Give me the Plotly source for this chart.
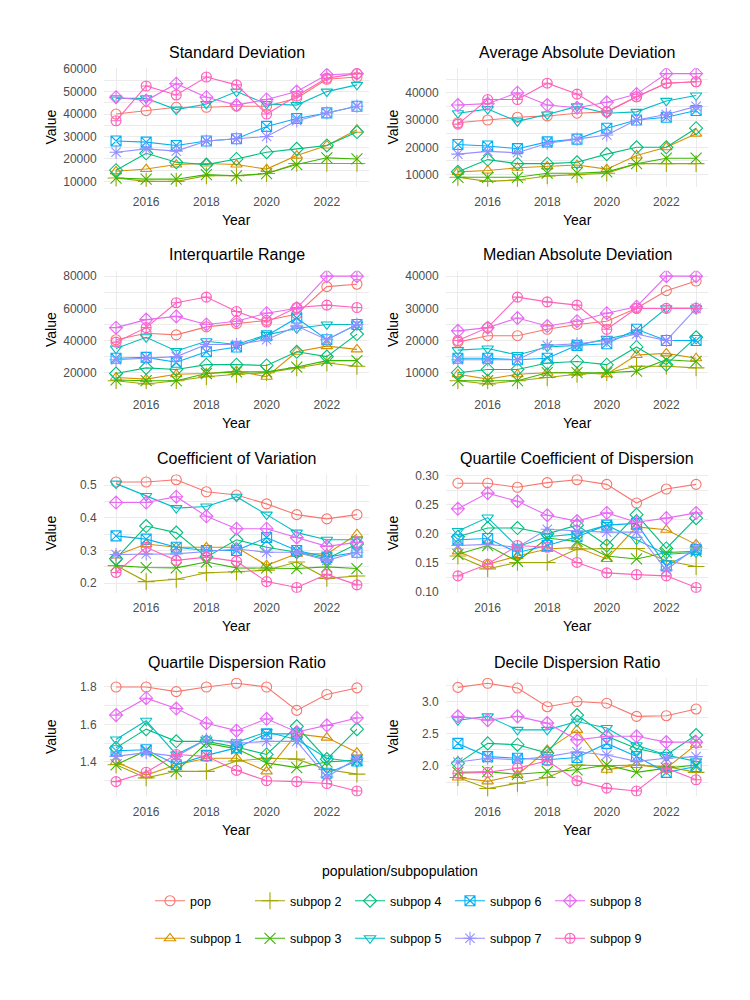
import plotly.graph_objects as go
from plotly.subplots import make_subplots

years = [2015, 2016, 2017, 2018, 2019, 2020, 2021, 2022, 2023]
series_names = ["pop", "subpop 1", "subpop 2", "subpop 3", "subpop 4",
                "subpop 5", "subpop 6", "subpop 7", "subpop 8", "subpop 9"]
colors = ["#F8766D", "#D89000", "#A3A500", "#39B600", "#00BF7D",
          "#00BFC4", "#00B0F6", "#9590FF", "#E76BF3", "#FF62BC"]
symbols = ["circle-open", "triangle-up-open", "cross-thin-open", "x-thin-open", "diamond-open",
           "triangle-down-open", "square-x-open", "asterisk-open", "diamond-cross-open", "circle-cross-open"]
sizes = [10, 10, 12, 11, 10, 10, 10, 11, 10, 10]

# Standard Deviation
sd_pop = [40000, 41500, 43000, 43000, 43500, 43500, 47000, 55500, 56500]
sd_s1 = [14500, 15500, 17500, 18000, 17500, 15500, 21500, 26000, 33000]
sd_s2 = [11500, 10000, 10000, 12500, 12500, 13500, 18000, 18000, 18000]
sd_s3 = [11500, 11000, 11000, 13000, 12500, 13500, 17500, 20500, 20000]
sd_s4 = [15000, 22500, 18500, 17500, 20000, 23000, 24500, 26000, 32000]
sd_s5 = [47000, 47000, 42000, 44500, 50000, 44500, 44000, 50000, 53000]
sd_s6 = [28000, 27500, 26000, 28000, 29000, 34500, 38000, 40500, 43500]
sd_s7 = [23000, 24500, 23500, 28000, 29000, 30000, 37000, 40500, 43500]
sd_s8 = [47500, 46000, 53500, 47500, 44000, 46500, 50000, 57500, 58000]
sd_s9 = [37000, 52500, 48500, 56500, 53000, 40000, 48000, 56000, 58000]

# Average Absolute Deviation
aad_pop = [29000, 30000, 31000, 31500, 32500, 33000, 38500, 43500, 44000]
aad_s1 = [11000, 11500, 12500, 13000, 13500, 12000, 17000, 20000, 25000]
aad_s2 = [9000, 7500, 8000, 9500, 10000, 10500, 14000, 14000, 14000]
aad_s3 = [9000, 9000, 9000, 10500, 10500, 11000, 14000, 16000, 16000]
aad_s4 = [11000, 15500, 14000, 14000, 14500, 17500, 20000, 20000, 27000]
aad_s5 = [32500, 34000, 29500, 32000, 35000, 32500, 33000, 37000, 39000]
aad_s6 = [21000, 20500, 19500, 22000, 23000, 27000, 30000, 31000, 33500]
aad_s7 = [17500, 18500, 18000, 21500, 23000, 24500, 30000, 32000, 35000]
aad_s8 = [35500, 36000, 40000, 35500, 34500, 36500, 39500, 47000, 47000]
aad_s9 = [28500, 37500, 37500, 43500, 39500, 33000, 38500, 43500, 44000]

# Interquartile Range
iqr_pop = [40500, 44500, 43500, 48500, 50500, 52500, 56500, 73500, 75000]
iqr_s1 = [17000, 16000, 19000, 19500, 21000, 17500, 33000, 36500, 34500]
iqr_s2 = [15000, 13000, 15000, 17500, 19000, 20000, 23000, 26000, 24000]
iqr_s3 = [15500, 15000, 15000, 19500, 20500, 20500, 23500, 27500, 27500]
iqr_s4 = [19500, 23000, 22000, 25000, 25000, 24500, 33000, 30000, 44000]
iqr_s5 = [35000, 42000, 33500, 39500, 37500, 43500, 47500, 50000, 50000]
iqr_s6 = [29000, 29500, 26500, 33000, 36000, 43000, 54000, 40500, 50000]
iqr_s7 = [28000, 29000, 30000, 37500, 37500, 40500, 49000, 40500, 50000]
iqr_s8 = [48000, 53000, 55000, 50000, 52000, 57000, 60000, 80000, 80000]
iqr_s9 = [39000, 48000, 63500, 67000, 58000, 51500, 60500, 62000, 60500]

# Median Absolute Deviation
mad_pop = [19500, 21500, 21500, 23500, 25000, 26000, 30000, 35500, 38500]
mad_s1 = [9500, 8000, 9500, 10000, 10000, 9500, 15500, 16000, 14500]
mad_s2 = [7500, 6500, 7500, 8500, 9500, 10000, 12000, 12000, 11500]
mad_s3 = [7500, 7500, 7500, 10000, 10000, 10000, 10500, 14000, 13500]
mad_s4 = [10000, 11000, 11000, 13000, 13500, 12500, 18000, 12500, 21000]
mad_s5 = [17000, 17500, 15500, 18000, 18500, 20500, 22500, 30000, 30000]
mad_s6 = [14500, 14500, 14000, 14500, 18500, 19000, 23500, 20000, 20000]
mad_s7 = [14000, 14000, 14000, 18500, 19000, 20000, 22000, 20000, 30000]
mad_s8 = [23000, 24000, 27000, 24500, 26000, 28500, 30500, 40000, 40000]
mad_s9 = [20000, 24000, 33500, 32000, 31000, 23500, 30000, 30000, 30000]

# Coefficient of Variation
cv_pop = [0.51, 0.51, 0.517, 0.48, 0.47, 0.443, 0.41, 0.397, 0.41]
cv_s1 = [0.285, 0.32, 0.31, 0.31, 0.31, 0.255, 0.29, 0.29, 0.35]
cv_s2 = [0.254, 0.205, 0.212, 0.232, 0.235, 0.24, 0.265, 0.215, 0.222]
cv_s3 = [0.254, 0.248, 0.247, 0.265, 0.247, 0.247, 0.245, 0.25, 0.245]
cv_s4 = [0.275, 0.375, 0.355, 0.28, 0.333, 0.31, 0.295, 0.275, 0.32]
cv_s5 = [0.505, 0.467, 0.43, 0.435, 0.465, 0.41, 0.355, 0.333, 0.333]
cv_s6 = [0.345, 0.335, 0.31, 0.30, 0.30, 0.34, 0.30, 0.28, 0.295]
cv_s7 = [0.288, 0.29, 0.29, 0.297, 0.305, 0.295, 0.295, 0.27, 0.295]
cv_s8 = [0.447, 0.447, 0.465, 0.405, 0.367, 0.367, 0.34, 0.313, 0.325]
cv_s9 = [0.233, 0.31, 0.27, 0.28, 0.267, 0.205, 0.187, 0.227, 0.195]

# Quartile Coefficient of Dispersion
qcd_pop = [0.287, 0.287, 0.28, 0.288, 0.293, 0.285, 0.253, 0.277, 0.285]
qcd_s1 = [0.17, 0.148, 0.162, 0.174, 0.177, 0.157, 0.212, 0.207, 0.182]
qcd_s2 = [0.162, 0.14, 0.151, 0.151, 0.174, 0.175, 0.175, 0.154, 0.144]
qcd_s3 = [0.165, 0.18, 0.153, 0.193, 0.187, 0.162, 0.157, 0.168, 0.17]
qcd_s4 = [0.195, 0.21, 0.21, 0.2, 0.215, 0.18, 0.233, 0.175, 0.227]
qcd_s5 = [0.205, 0.228, 0.178, 0.195, 0.2, 0.215, 0.19, 0.165, 0.168]
qcd_s6 = [0.19, 0.192, 0.168, 0.18, 0.195, 0.215, 0.218, 0.145, 0.173]
qcd_s7 = [0.18, 0.182, 0.177, 0.208, 0.205, 0.203, 0.203, 0.138, 0.177]
qcd_s8 = [0.243, 0.27, 0.256, 0.232, 0.222, 0.236, 0.22, 0.227, 0.236]
qcd_s9 = [0.128, 0.148, 0.18, 0.177, 0.151, 0.133, 0.13, 0.128, 0.108]

# Quartile Dispersion Ratio
qdr_pop = [1.80, 1.80, 1.775, 1.80, 1.82, 1.80, 1.675, 1.76, 1.795]
qdr_s1 = [1.40, 1.33, 1.385, 1.42, 1.42, 1.35, 1.55, 1.53, 1.45]
qdr_s2 = [1.385, 1.315, 1.35, 1.35, 1.405, 1.42, 1.415, 1.36, 1.335]
qdr_s3 = [1.385, 1.46, 1.35, 1.50, 1.47, 1.395, 1.37, 1.40, 1.41]
qdr_s4 = [1.475, 1.575, 1.51, 1.51, 1.48, 1.44, 1.59, 1.415, 1.575]
qdr_s5 = [1.52, 1.62, 1.44, 1.52, 1.505, 1.56, 1.52, 1.42, 1.40]
qdr_s6 = [1.46, 1.465, 1.385, 1.435, 1.475, 1.55, 1.55, 1.34, 1.405]
qdr_s7 = [1.43, 1.45, 1.43, 1.52, 1.50, 1.51, 1.51, 1.32, 1.42]
qdr_s8 = [1.65, 1.74, 1.685, 1.607, 1.567, 1.63, 1.56, 1.595, 1.635]
qdr_s9 = [1.295, 1.345, 1.44, 1.43, 1.355, 1.30, 1.295, 1.285, 1.245]

# Decile Dispersion Ratio
ddr_pop = [3.22, 3.285, 3.21, 2.92, 3.0, 2.975, 2.77, 2.78, 2.885]
ddr_s1 = [1.82, 1.76, 1.86, 2.25, 2.56, 1.94, 2.015, 1.965, 2.33]
ddr_s2 = [1.82, 1.65, 1.73, 1.82, 2.015, 2.0, 2.015, 1.99, 1.90]
ddr_s3 = [1.90, 1.91, 1.87, 1.91, 1.94, 2.015, 1.90, 1.965, 2.015]
ddr_s4 = [2.04, 2.35, 2.33, 2.2, 2.79, 2.46, 2.27, 2.17, 2.48]
ddr_s5 = [2.71, 2.77, 2.56, 2.56, 2.69, 2.59, 2.32, 2.17, 2.07]
ddr_s6 = [2.35, 2.145, 2.12, 2.095, 2.13, 2.35, 2.145, 1.90, 1.99]
ddr_s7 = [2.06, 2.12, 2.095, 2.145, 2.22, 2.17, 2.07, 2.12, 2.145]
ddr_s8 = [2.77, 2.71, 2.77, 2.665, 2.405, 2.46, 2.46, 2.37, 2.37]
ddr_s9 = [1.885, 1.90, 1.965, 2.08, 1.77, 1.655, 1.61, 1.965, 1.785]

panel_titles = ["Standard Deviation", "Average Absolute Deviation",
                "Interquartile Range", "Median Absolute Deviation",
                "Coefficient of Variation", "Quartile Coefficient of Dispersion",
                "Quartile Dispersion Ratio", "Decile Dispersion Ratio"]
panel_data = [
    [sd_pop, sd_s1, sd_s2, sd_s3, sd_s4, sd_s5, sd_s6, sd_s7, sd_s8, sd_s9],
    [aad_pop, aad_s1, aad_s2, aad_s3, aad_s4, aad_s5, aad_s6, aad_s7, aad_s8, aad_s9],
    [iqr_pop, iqr_s1, iqr_s2, iqr_s3, iqr_s4, iqr_s5, iqr_s6, iqr_s7, iqr_s8, iqr_s9],
    [mad_pop, mad_s1, mad_s2, mad_s3, mad_s4, mad_s5, mad_s6, mad_s7, mad_s8, mad_s9],
    [cv_pop, cv_s1, cv_s2, cv_s3, cv_s4, cv_s5, cv_s6, cv_s7, cv_s8, cv_s9],
    [qcd_pop, qcd_s1, qcd_s2, qcd_s3, qcd_s4, qcd_s5, qcd_s6, qcd_s7, qcd_s8, qcd_s9],
    [qdr_pop, qdr_s1, qdr_s2, qdr_s3, qdr_s4, qdr_s5, qdr_s6, qdr_s7, qdr_s8, qdr_s9],
    [ddr_pop, ddr_s1, ddr_s2, ddr_s3, ddr_s4, ddr_s5, ddr_s6, ddr_s7, ddr_s8, ddr_s9],
]
y_dticks = [10000, 10000, 20000, 10000, 0.1, 0.05, 0.2, 0.5]
y_formats = ["d", "d", "d", "d", ".1f", ".2f", ".1f", ".1f"]

W, H = 750, 1000
FONT = "Liberation Sans, Arial, sans-serif"
col_px = [(104, 369), (446, 708)]
row_top = [63, 268, 474, 680]
panel_h = 120
GRID = "#EBEBEB"

fig = make_subplots(rows=4, cols=2)

annotations = []
for i, data in enumerate(panel_data):
    r, c = i // 2 + 1, i % 2 + 1
    for k, name in enumerate(series_names):
        fig.add_trace(go.Scatter(
            x=years, y=data[k], mode="lines+markers", name=name,
            line=dict(color=colors[k], width=1.1),
            marker=dict(symbol=symbols[k], size=sizes[k], color=colors[k],
                        line=dict(color=colors[k], width=1.1)),
            showlegend=(i == 0),
            legend="legend" if k % 2 == 0 else "legend2",
            hoverinfo="skip",
        ), row=r, col=c)

    x0, x1 = col_px[c - 1]
    top = row_top[r - 1]
    bot = top + panel_h
    allv = [v for s in data for v in s]
    lo, hi = min(allv), max(allv)
    pad = 0.05 * (hi - lo)
    dt = y_dticks[i]
    fig.update_xaxes(
        domain=[x0 / W, x1 / W], range=[2014.6, 2023.4],
        tick0=2016, dtick=2, tickformat="d",
        showgrid=True, gridcolor=GRID, gridwidth=1.1, zeroline=False, showline=False,
        ticks="outside", ticklen=4, tickcolor="rgba(0,0,0,0)",
        tickfont=dict(family=FONT, size=12, color="#4D4D4D"),
        minor=dict(dtick=1, tick0=2015, showgrid=True, gridcolor=GRID, gridwidth=0.6),
        row=r, col=c)
    fig.update_yaxes(
        domain=[1 - bot / H, 1 - top / H], range=[lo - pad, hi + pad],
        tick0=0, dtick=dt, tickformat=y_formats[i],
        showgrid=True, gridcolor=GRID, gridwidth=1.1, zeroline=False, showline=False,
        ticks="outside", ticklen=4, tickcolor="rgba(0,0,0,0)",
        tickfont=dict(family=FONT, size=12, color="#4D4D4D"),
        minor=dict(dtick=dt / 2, tick0=0, showgrid=True, gridcolor=GRID, gridwidth=0.6),
        row=r, col=c)

    cx = (x0 + x1) / 2
    annotations.append(dict(text=panel_titles[i], x=cx / W, y=1 - (top - 16) / H,
                            xref="paper", yref="paper", xanchor="center", yanchor="middle",
                            showarrow=False, font=dict(family=FONT, size=16, color="black")))
    annotations.append(dict(text="Year", x=cx / W, y=1 - (bot + 34) / H,
                            xref="paper", yref="paper", xanchor="center", yanchor="middle",
                            showarrow=False, font=dict(family=FONT, size=14, color="black")))
    vx = 51 if c == 1 else 393
    annotations.append(dict(text="Value", x=vx / W, y=1 - (top + panel_h / 2) / H,
                            xref="paper", yref="paper", xanchor="center", yanchor="middle",
                            textangle=-90, showarrow=False,
                            font=dict(family=FONT, size=14, color="black")))

annotations.append(dict(text="population/subpopulation", x=400 / W, y=1 - 876 / H,
                        xref="paper", yref="paper", xanchor="center", yanchor="middle",
                        showarrow=False, font=dict(family=FONT, size=14, color="black")))

legend_common = dict(orientation="h", xanchor="left", yanchor="middle",
                     entrywidth=55, itemwidth=30, bgcolor="rgba(0,0,0,0)",
                     font=dict(family=FONT, size=12.5, color="black"),
                     itemclick=False, itemdoubleclick=False)

fig.update_layout(
    width=W, height=H,
    margin=dict(l=0, r=0, t=0, b=0),
    paper_bgcolor="white", plot_bgcolor="white",
    font=dict(family=FONT),
    annotations=annotations,
    legend=dict(x=150 / W, y=1 - 906 / H, **legend_common),
    legend2=dict(x=150 / W, y=1 - 944 / H, **legend_common),
)

fig.write_html("out.html", config={"displayModeBar": False},
               post_script="document.body.style.margin='0px';")
